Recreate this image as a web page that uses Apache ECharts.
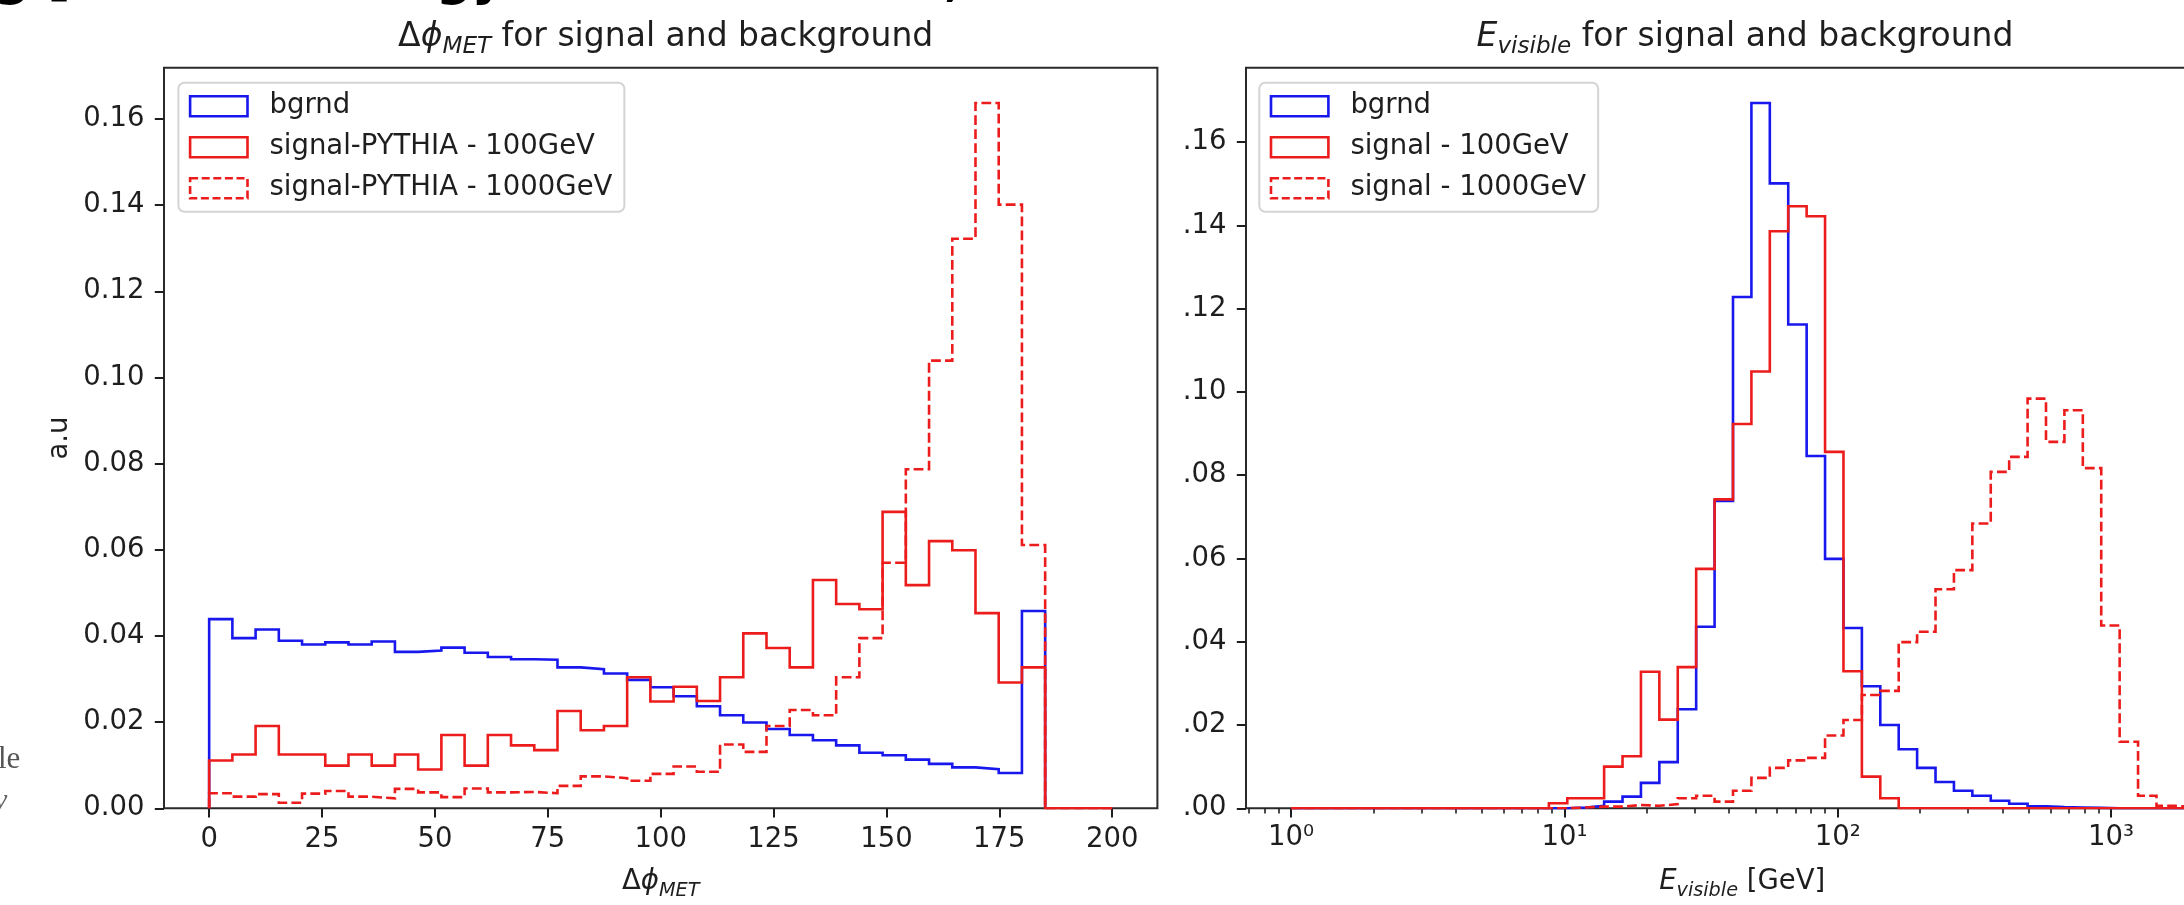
<!DOCTYPE html>
<html>
<head>
<meta charset="utf-8">
<script src="https://cdn.jsdelivr.net/npm/echarts@6/dist/echarts.min.js"></script>
<style>
    html, body { margin: 0; padding: 0; background: #fff; }
    #chart { width: 2184px; height: 905px; }
</style>
</head>
<body>
<div id="chart"></div>
<script>
// ---- delta phi : 36 bins of 180/35 deg, signal has empty bins up to 200
const dphiBinWidth = 180 / 35
const dphiBgrnd = [0.0439, 0.0395, 0.0415, 0.0389, 0.0380, 0.0385, 0.0380, 0.0387, 0.0363, 0.0366, 0.0373, 0.0361,
    0.0351, 0.0346, 0.0345, 0.0327, 0.0323, 0.0313, 0.0298, 0.0281, 0.0260, 0.0237, 0.0216, 0.0199,
    0.0184, 0.0170, 0.0158, 0.0146, 0.0129, 0.0123, 0.0113, 0.0103, 0.0095, 0.0091, 0.0082, 0.0458]
const dphiSig100 = [0.0111, 0.0125, 0.0191, 0.0125, 0.0125, 0.0099, 0.0125, 0.0099, 0.0125, 0.0090, 0.0170, 0.0099,
    0.0170, 0.0146, 0.0135, 0.0226, 0.0181, 0.0191, 0.0304, 0.0248, 0.0282, 0.0249, 0.0304, 0.0406,
    0.0372, 0.0327, 0.0530, 0.0474, 0.0462, 0.0688, 0.0518, 0.0620, 0.0599, 0.0453, 0.0292, 0.0327]
const dphiSig1000 = [0.0035, 0.0027, 0.0033, 0.0013, 0.0034, 0.0040, 0.0027, 0.0023, 0.0045, 0.0037, 0.0026, 0.0046,
    0.0037, 0.0038, 0.0035, 0.0052, 0.0074, 0.0070, 0.0064, 0.0080, 0.0097, 0.0085, 0.0148, 0.0131,
    0.0191, 0.0228, 0.0216, 0.0304, 0.0395, 0.0570, 0.0787, 0.1039, 0.1322, 0.1637, 0.1401, 0.0611]
const dphiSignalEnd = 200
const dphiXTicks = [0, 25, 50, 75, 100, 125, 150, 175, 200]
const dphiYTicks = [0, 0.02, 0.04, 0.06, 0.08, 0.10, 0.12, 0.14, 0.16]

// ---- E visible : 49 log bins from 1 to 2000 GeV
const evisLow = 1
const evisHigh = 2000
const evisBins = 49
const evisBgrnd = [0, 0, 0, 0, 0, 0, 0, 0, 0, 0, 0, 0, 0, 0, 0, 0.0002, 0.0006, 0.0016, 0.0028, 0.0061,
    0.0111, 0.0238, 0.0436, 0.0738, 0.1228, 0.1694, 0.1501, 0.1162, 0.0846, 0.0599, 0.0433, 0.0293,
    0.0200, 0.0142, 0.0097, 0.0063, 0.0042, 0.0030, 0.0018, 0.0011, 0.0005, 0.0003, 0.0002, 0.0001,
    0, 0, 0, 0, 0]
const evisSig100 = [0, 0, 0, 0, 0, 0, 0, 0, 0, 0, 0, 0, 0, 0, 0.0012, 0.0024, 0.0024, 0.0100, 0.0125, 0.0328,
    0.0213, 0.0339, 0.0575, 0.0742, 0.0923, 0.1049, 0.1386, 0.1446, 0.1422, 0.0856, 0.0329, 0.0076,
    0.0024, 0, 0, 0, 0, 0, 0, 0, 0, 0, 0, 0, 0, 0, 0, 0, 0]
const evisSig1000 = [0, 0, 0, 0, 0, 0, 0, 0, 0, 0, 0, 0, 0, 0, 0, 0.0002, 0.0004, 0.0004, 0.0008, 0.0006,
    0.0010, 0.0024, 0.0030, 0.0016, 0.0042, 0.0073, 0.0097, 0.0115, 0.0121, 0.0175, 0.0212, 0.0272,
    0.0282, 0.0399, 0.0424, 0.0526, 0.0572, 0.0684, 0.0808, 0.0844, 0.0984, 0.0880, 0.0956, 0.0817,
    0.0439, 0.0160, 0.0030, 0.0006, 0.0003]
const evisXTicks = [0, 1, 2, 3]   // powers of ten
const evisXLabels = ['10⁰', '10¹', '10²', '10³']
const evisYTicks = [0, 0.02, 0.04, 0.06, 0.08, 0.10, 0.12, 0.14, 0.16]

const BLUE = '#1717ee'
const RED = '#ec1c1c'
const INK = '#1e1e1e'
const FONT = 'DejaVu Sans'
const FS = 27.5      // tick / legend / label size
const LW = 2.6
const DASH = [9.8, 4.2]

// bin edges
const dphiEdges = []
for (let i = 0; i <= dphiBgrnd.length; i++) dphiEdges.push(i * dphiBinWidth)
const evisEdges = []   // in log10 space
for (let i = 0; i <= evisBins; i++) {
    evisEdges.push(Math.log10(evisLow) + i * (Math.log10(evisHigh) - Math.log10(evisLow)) / evisBins)
}
const evisMinor = []
for (let e = -1; e <= 3; e++) {
    for (let m = 2; m <= 9; m++) {
        const v = e + Math.log10(m)
        if (v > -0.165 && v < 3.466) evisMinor.push(v)
    }
}

// outline of a step histogram, like histtype='step'
function stepPoints(edges, values, tailTo) {
    const pts = [[edges[0], 0]]
    values.forEach((v, i) => {
        pts.push([edges[i], v])
        pts.push([edges[i + 1], v])
    })
    pts.push([edges[values.length], 0])
    if (tailTo !== undefined) pts.push([tailTo, 0])
    return pts
}

function histSeries(name, xi, data, color, dashed) {
    return {
        type: 'line', name: name, xAxisIndex: xi, yAxisIndex: xi === 0 ? 0 : 1,
        data: data, symbol: 'none', showSymbol: false, silent: true, animation: false,
        lineStyle: { color: color, width: LW, type: dashed ? DASH : 'solid', join: 'miter', cap: 'butt' },
        itemStyle: { color: color }
    }
}

function legendItem(name, color, dashed) {
    return {
        name: name, icon: 'rect',
        itemStyle: { color: 'transparent', borderColor: color, borderWidth: LW, borderType: dashed ? [8, 3.6] : 'solid' }
    }
}

function legendBox(left, items) {
    return {
        orient: 'vertical', left: left, top: 82.8,
        itemWidth: 57.4, itemHeight: 20, itemGap: 10,
        padding: [8, 12, 8, 10.4],
        backgroundColor: 'rgba(255,255,255,0.85)', borderColor: '#d4d4d4', borderWidth: 2, borderRadius: 6,
        selectedMode: false,
        textStyle: { fontFamily: FONT, fontSize: FS, color: INK, lineHeight: 31, padding: [0, 0, 0, 17] },
        data: items
    }
}

const mathRich = function (size) {
    return {
        n: { fontFamily: FONT, fontSize: size, fontWeight: 'normal', color: INK, lineHeight: size * 1.3 },
        i: { fontFamily: FONT, fontSize: size, fontWeight: 'normal', color: INK, fontStyle: 'italic', lineHeight: size * 1.3 },
        s: { fontFamily: FONT, fontSize: size * 0.7, fontWeight: 'normal', color: INK, fontStyle: 'italic',
            lineHeight: size * 0.7, verticalAlign: 'bottom' }
    }
}

const tickStyle = { color: INK, width: 2 }
const labelStyle = { fontFamily: FONT, fontSize: FS, color: INK }
const noLine = { show: false, onZero: false }
// cut-off heading line above the figure
const headStyle = { font: 'bold 50px "DejaVu Sans"', fill: '#000' }

const myChart = echarts.init(document.getElementById('chart'))
myChart.setOption({
    animation: false,
    backgroundColor: '#fff',
    title: [{
        text: '{n|Δ}{i|ϕ}{s|MET}{n| for signal and background}',
        left: 660.7, top: 11, textAlign: 'center',
        textStyle: { fontWeight: 'normal', rich: mathRich(33) }
    }, {
        text: '{i|E}{s|visible}{n| for signal and background}',
        left: 1740, top: 11, textAlign: 'center',
        textStyle: { fontWeight: 'normal', rich: mathRich(33) }
    }],
    legend: [
        legendBox(178.4, [legendItem('bgrnd', BLUE), legendItem('signal-PYTHIA - 100GeV', RED),
            legendItem('signal-PYTHIA - 1000GeV', RED, true)]),
        legendBox(1259.3, [legendItem('bgrnd', BLUE), legendItem('signal - 100GeV', RED),
            legendItem('signal - 1000GeV', RED, true)])
    ],
    grid: [
        { left: 164, top: 67.7, width: 993.4, height: 740.6, show: true, borderColor: '#2a2a2a', borderWidth: 2,
            containLabel: false, outerBoundsMode: 'none' },
        { left: 1246, top: 67.7, width: 992.4, height: 740.6, show: true, borderColor: '#2a2a2a', borderWidth: 2,
            containLabel: false, outerBoundsMode: 'none' }
    ],
    xAxis: [{
        gridIndex: 0, type: 'value', min: -10, max: 210, position: 'bottom',
        axisLine: noLine, splitLine: { show: false },
        axisTick: { length: 9.2, lineStyle: tickStyle, customValues: dphiXTicks },
        axisLabel: Object.assign({ margin: 18, customValues: dphiXTicks }, labelStyle),
        name: '{n|Δ}{i|ϕ}{s|MET}', nameLocation: 'middle', nameGap: 56,
        nameTextStyle: { rich: mathRich(FS) }
    }, {
        gridIndex: 1, type: 'value', min: -0.16505, max: 3.46608, position: 'bottom',
        axisLine: noLine, splitLine: { show: false },
        axisTick: { length: 9.2, lineStyle: tickStyle, customValues: evisXTicks },
        axisLabel: Object.assign({
            margin: 16, customValues: evisXTicks,
            formatter: v => evisXLabels[evisXTicks.indexOf(v)]
        }, labelStyle),
        name: '{i|E}{s|visible}{n| [GeV]}', nameLocation: 'middle', nameGap: 56,
        nameTextStyle: { rich: mathRich(FS) }
    }, {
        // minor ticks of the log axis
        gridIndex: 1, type: 'value', min: -0.16505, max: 3.46608, position: 'bottom', offset: 0,
        axisLine: noLine, splitLine: { show: false }, axisLabel: { show: false },
        axisTick: { length: 5.3, lineStyle: { color: INK, width: 1.6 }, customValues: evisMinor }
    }],
    yAxis: [{
        gridIndex: 0, type: 'value', min: 0, max: 0.17189, position: 'left',
        axisLine: noLine, splitLine: { show: false },
        axisTick: { length: 9.2, lineStyle: tickStyle, customValues: dphiYTicks },
        axisLabel: Object.assign({ margin: 19.5, customValues: dphiYTicks, formatter: v => v.toFixed(2) }, labelStyle),
        name: 'a.u', nameLocation: 'middle', nameGap: 90,
        nameTextStyle: { fontFamily: FONT, fontSize: FS, color: INK }
    }, {
        gridIndex: 1, type: 'value', min: 0, max: 0.17787, position: 'left',
        axisLine: noLine, splitLine: { show: false },
        axisTick: { length: 9.2, lineStyle: tickStyle, customValues: evisYTicks },
        axisLabel: Object.assign({ margin: 19.5, customValues: evisYTicks, formatter: v => v.toFixed(2).slice(1) }, labelStyle)
    }],
    series: [
        histSeries('bgrnd', 0, stepPoints(dphiEdges, dphiBgrnd), BLUE),
        histSeries('signal-PYTHIA - 100GeV', 0, stepPoints(dphiEdges, dphiSig100, dphiSignalEnd), RED),
        histSeries('signal-PYTHIA - 1000GeV', 0, stepPoints(dphiEdges, dphiSig1000, dphiSignalEnd), RED, true),
        histSeries('bgrnd', 1, stepPoints(evisEdges, evisBgrnd), BLUE),
        histSeries('signal - 100GeV', 1, stepPoints(evisEdges, evisSig100), RED),
        histSeries('signal - 1000GeV', 1, stepPoints(evisEdges, evisSig1000), RED, true)
    ],
    // bits of the page around the figure
    graphic: [
        { type: 'text', left: -2, top: 744, style: { text: 'le', font: '31px "Liberation Serif"', fill: '#555' } },
        { type: 'text', left: -6, top: 786, style: { text: 'y', font: 'italic 30px "Liberation Serif"', fill: '#666' } },
        { type: 'text', x: -6, y: -43, style: Object.assign({ text: 'g [' }, headStyle) },
        { type: 'text', x: 436, y: -43, style: Object.assign({ text: 'gy' }, headStyle) },
        { type: 'text', x: 944, y: -43, style: Object.assign({ text: ',' }, headStyle) },
        // only the lower edge of that line shows in the crop
        { type: 'rect', shape: { x: 0, y: 17, width: 1100, height: 20 }, style: { fill: '#fff' } }
    ]
})
window.addEventListener('resize', myChart.resize)
</script>
</body>
</html>
